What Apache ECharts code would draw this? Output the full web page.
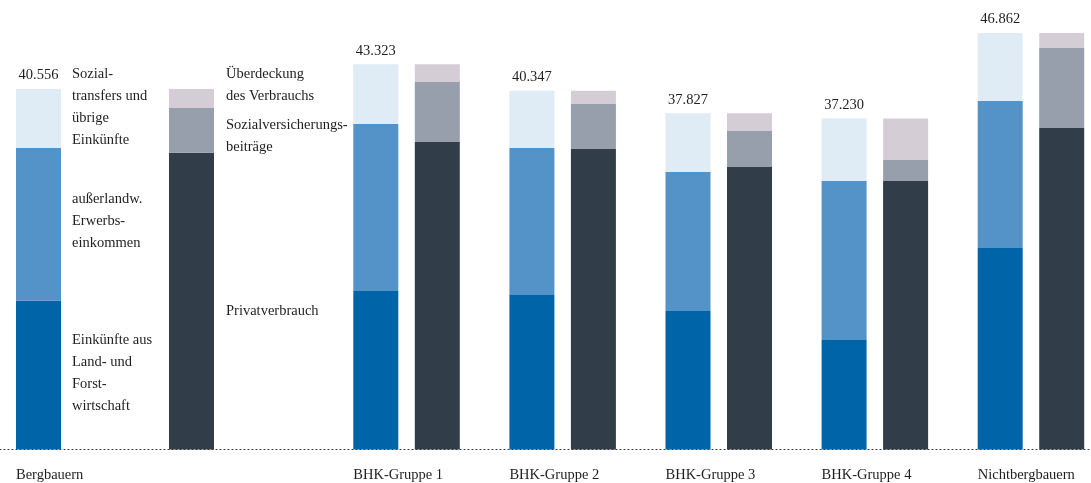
<!DOCTYPE html>
<html>
<head>
<meta charset="utf-8">
<script src="https://cdn.jsdelivr.net/npm/echarts@6/dist/echarts.min.js"></script>
<style>
html,body{margin:0;padding:0;background:#fff;}
#c{width:1091px;height:483px;}
</style>
</head>
<body>
<div id="c"></div>
<script>
// ---- data ----
const categories = ['Bergbauern','BHK-Gruppe 1','BHK-Gruppe 2','BHK-Gruppe 3','BHK-Gruppe 4','Nichtbergbauern'];
const totals     = [40556, 43323, 40347, 37827, 37230, 46862];
// income components
const landForst  = [16740, 17830, 17380, 15580, 12320, 22670];
const ausserLw   = [17180, 18790, 16540, 15640, 17890, 16540];
const sozial     = [6636, 6703, 6427, 6607, 7020, 7652];
// usage components
const privat     = [33390, 34590, 33810, 31780, 30210, 36170];
const sozVers    = [5030, 6750, 5060, 4050, 2360, 9000];
const ueber      = [2136, 1983, 1477, 1997, 4660, 1692];

const incomeNames = ['Einkünfte aus\nLand- und\nForst-\nwirtschaft', 'außerlandw.\nErwerbs-\neinkommen', 'Sozial-\ntransfers und\nübrige\nEinkünfte'];
const usageNames  = ['Privatverbrauch', 'Sozialversicherungs-\nbeiträge', 'Überdeckung\ndes Verbrauchs'];

const colors = {
  land: '#0064a8', ausser: '#5493c8', sozial: '#dfecf5',
  privat: '#313d48', sv: '#979eac', ueber: '#d5cdd6'
};
const FONT = '"Liberation Serif", "DejaVu Serif", serif';
const TXT = '#1e1e1e';

function fmt(v){ return String(v).replace(/\B(?=(\d{3})+(?!\d))/g, '.'); }

const chart = echarts.init(document.getElementById('c'), null, {renderer:'canvas'});

const yMax = 50000;
const gridTop = 5, gridBottom = 33.5;

function sideLabel(text, dist, dy){
  return {
    show: true, position: 'right', distance: dist, offset: [0, dy],
    formatter: () => text, color: TXT, fontFamily: FONT, fontSize: 14.5,
    lineHeight: 22, align: 'left'
  };
}
const totalLabel = {
  show: true, position: 'top', distance: 6, color: TXT, fontFamily: FONT, fontSize: 14.5
};

function makeSeries(gi, sl, withSide){
  const xi = gi, yi = gi;
  const base = {type:'bar', xAxisIndex: xi, yAxisIndex: yi, barWidth: 45, silent: true};
  const off = sl[0];
  return [
    Object.assign({}, base, {name:'land'+gi, stack:'in'+gi, data: landForst.slice(...sl), itemStyle:{color:colors.land},
      label: withSide ? sideLabel(incomeNames[0], 11, -2) : {show:false}}),
    Object.assign({}, base, {name:'ausser'+gi, stack:'in'+gi, data: ausserLw.slice(...sl), itemStyle:{color:colors.ausser},
      label: withSide ? sideLabel(incomeNames[1], 11, -3) : {show:false}}),
    Object.assign({}, base, {name:'sozial'+gi, stack:'in'+gi, data: sozial.slice(...sl), itemStyle:{color:colors.sozial},
      label: withSide ? sideLabel(incomeNames[2], 11, -11) : {show:false}}),
    Object.assign({}, base, {name:'privat'+gi, stack:'out'+gi, data: privat.slice(...sl), itemStyle:{color:colors.privat},
      label: withSide ? sideLabel(usageNames[0], 12, 10) : {show:false}}),
    Object.assign({}, base, {name:'sv'+gi, stack:'out'+gi, data: sozVers.slice(...sl), itemStyle:{color:colors.sv},
      label: withSide ? sideLabel(usageNames[1], 12, 6) : {show:false}}),
    Object.assign({}, base, {name:'ueber'+gi, stack:'out'+gi, data: ueber.slice(...sl), itemStyle:{color:colors.ueber},
      label: withSide ? sideLabel(usageNames[2], 12, -13) : {show:false}}),
    // total labels placed on top of the income stack (transparent zero-height helper)
    Object.assign({}, base, {name:'tot'+gi, stack:'in'+gi, data: totals.slice(...sl).map(()=>0), itemStyle:{color:'transparent'},
      label: Object.assign({}, totalLabel, {formatter: p => fmt(totals[p.dataIndex + off])})})
  ];
}

function catAxis(gi, cats, boxW){
  return {
    type:'category', gridIndex: gi, data: cats,
    axisLine:{show:false}, axisTick:{show:false},
    axisLabel:{
      margin: 18, align:'center', width: boxW, overflow:'none',
      formatter: v => '{a|' + v + '}',
      rich:{ a:{ align:'left', color: TXT, fontFamily: FONT, fontSize: 14.5 } }
    }
  };
}
function valAxis(gi){
  return {type:'value', gridIndex: gi, min:0, max:yMax, show:false, splitLine:{show:false}};
}

const option = {
  animation: false,
  backgroundColor: '#fff',
  grid: [
    {left: 0, width: 230, top: gridTop, bottom: gridBottom, containLabel:false, outerBoundsMode:'none'},
    {left: 328.5, width: 780.5, top: gridTop, bottom: gridBottom, containLabel:false, outerBoundsMode:'none'},
    {left: 0, right: 0, top: gridTop, bottom: gridBottom, containLabel:false, outerBoundsMode:'none'}
  ],
  xAxis: [
    catAxis(0, categories.slice(0,1), 198),
    catAxis(1, categories.slice(1), 106.5),
    {type:'value', gridIndex:2, min:0, max:1, axisTick:{show:false}, axisLabel:{show:false}, splitLine:{show:false},
     axisLine:{show:true, lineStyle:{color:'#333', width:1, type:[1,3]}}}
  ],
  yAxis: [valAxis(0), valAxis(1), {type:'value', gridIndex:2, min:0, max:1, show:false, splitLine:{show:false}}],
  series: [].concat(
    makeSeries(0, [0,1], true).map(s => Object.assign(s, {barGap:'240%'})),
    makeSeries(1, [1,6], false).map(s => Object.assign(s, {barGap:'36.7%'}))
  )
};
chart.setOption(option);
</script>
</body>
</html>
